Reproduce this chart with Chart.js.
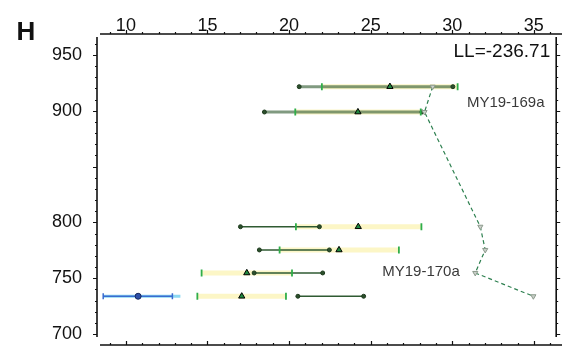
<!DOCTYPE html>
<html>
<head>
<meta charset="utf-8">
<script src="https://cdn.jsdelivr.net/npm/chart.js@4.4.1/dist/chart.umd.min.js"></script>
<style>
    html, body { margin: 0; padding: 0; background: #fff; }
    #wrap { width: 562px; height: 349px; position: relative; }
</style>
</head>
<body>
<div id="wrap"><canvas id="chart"></canvas></div>
<script>
// values
const rowY = [921.6, 898.9, 796.1, 775.3, 754.7, 733.8];
const lineLo = [20.62, 18.49, 17.02, 18.18, 17.86, 20.54];
const lineHi = [30.04, 28.15, 21.86, 22.47, 22.06, 24.57];
const bandLo = [22.01, 20.38, 20.42, 19.42, 14.64, 14.38];
const bandHi = [30.33, 28.07, 28.11, 26.73, 20.18, 19.81];
const triX = [26.18, 24.22, 24.24, 23.06, 17.41, 17.10];
const pathX = [28.80, 28.30, 31.72, 32.02, 31.41, 34.97];

// the blue interval on the lowest row
const blueY = 733.8;
const blueLo = 8.61;
const blueMid = 10.75;
const blueHi = 12.85;
const cyanHi = 13.34;

const xTicks = [10, 15, 20, 25, 30, 35];
const yTicks = [700, 750, 800, 850, 900, 950];
const yTickLabels = ['700', '750', '800', '', '900', '950'];

const FONT = "'Liberation Sans', Arial, sans-serif";

const seg = (a, b, y) => [{ x: a, y: y }, { x: b, y: y }];

const datasets = [];

// pale yellow bands, drawn first
rowY.forEach((y, i) => {
    datasets.push({
        data: seg(bandLo[i], bandHi[i], y),
        showLine: true,
        borderColor: '#fcf6c6',
        borderWidth: 5,
        pointRadius: 0,
        order: 9
    });
});

// dark green intervals with end dots
rowY.forEach((y, i) => {
    const faded = i < 2;
    datasets.push({
        data: seg(lineLo[i], lineHi[i], y),
        showLine: true,
        borderColor: faded ? 'rgba(60,100,60,0.65)' : '#2f5a32',
        borderWidth: faded ? 3 : 1.5,
        pointRadius: 2,
        pointBackgroundColor: '#2c4f2c',
        pointBorderColor: '#1d3a1d',
        pointBorderWidth: 1,
        order: 7
    });
});

// green end marks of the yellow bands
datasets.push({
    data: rowY.flatMap((y, i) => seg(bandLo[i], bandHi[i], y)),
    pointStyle: 'line',
    pointRotation: 90,
    pointRadius: 3.5,
    pointBorderColor: '#2fae4a',
    pointBorderWidth: 1.8,
    order: 5
});

// blue interval
datasets.push({
    data: seg(blueLo, cyanHi, blueY),
    showLine: true,
    borderColor: '#8cd8f2',
    borderWidth: 3,
    pointRadius: 0,
    order: 8
});
datasets.push({
    data: seg(blueLo, blueHi, blueY),
    showLine: true,
    borderColor: '#3a6bd0',
    borderWidth: 1.5,
    pointStyle: 'line',
    pointRotation: 90,
    pointRadius: 3,
    pointBorderColor: '#3a6bd0',
    pointBorderWidth: 1.5,
    order: 6
});
datasets.push({
    data: [{ x: blueMid, y: blueY }],
    pointRadius: 3,
    pointBackgroundColor: '#2d4fa8',
    pointBorderColor: '#16285e',
    pointBorderWidth: 1,
    order: 4
});

// triangles
datasets.push({
    data: triX.map((x, i) => ({ x: x, y: rowY[i] })),
    pointStyle: 'triangle',
    pointRadius: 3.6,
    pointBackgroundColor: '#1f8a3f',
    pointBorderColor: '#000',
    pointBorderWidth: 1,
    order: 2
});

// dashed path with grey markers
datasets.push({
    data: pathX.map((x, i) => ({ x: x, y: rowY[i] })),
    showLine: true,
    borderColor: '#2e8050',
    borderWidth: 1.2,
    borderDash: [4, 3],
    pointStyle: 'triangle',
    pointRotation: 180,
    pointRadius: 3,
    pointBackgroundColor: '#c9cfc9',
    pointBorderColor: '#8c9a8c',
    pointBorderWidth: 1,
    order: 1
});

// open frame, offset axes and minor ticks, plus the free text
const framePlugin = {
    id: 'frame',
    afterDraw(chart) {
        const ctx = chart.ctx;
        const ca = chart.chartArea;
        const xs = chart.scales.x;
        const ys = chart.scales.y;
        const topY = ca.top - 3;
        const botY = ca.bottom + 8;
        ctx.save();
        ctx.strokeStyle = '#111';
        ctx.lineWidth = 1.6;
        ctx.beginPath();
        ctx.moveTo(ca.left + 3, topY); ctx.lineTo(chart.width, topY);
        ctx.moveTo(ca.left + 3, botY); ctx.lineTo(chart.width, botY);
        ctx.moveTo(ca.left, ca.top); ctx.lineTo(ca.left, ca.bottom);
        ctx.moveTo(ca.right, ca.top); ctx.lineTo(ca.right, ca.bottom);
        ctx.stroke();

        ctx.lineWidth = 1.2;
        ctx.beginPath();
        for (let v = 9; v <= 36; v++) {
            const px = Math.round(xs.getPixelForValue(v)) + 0.5;
            const len = v % 5 === 0 ? 4 : 2;
            ctx.moveTo(px, topY); ctx.lineTo(px, topY - len);
            ctx.moveTo(px, botY); ctx.lineTo(px, botY - len);
        }
        for (let v = 700; v <= 960; v += 10) {
            const py = Math.round(ys.getPixelForValue(v)) + 0.5;
            const len = v % 50 === 0 ? 4 : 2;
            ctx.moveTo(ca.left, py); ctx.lineTo(ca.left - len, py);
            ctx.moveTo(ca.right, py); ctx.lineTo(ca.right + len, py);
        }
        ctx.stroke();

        ctx.fillStyle = '#111';
        ctx.textBaseline = 'middle';
        ctx.font = 'bold 26px ' + FONT;
        ctx.textAlign = 'center';
        ctx.fillText('H', 26, 33);

        ctx.font = '19px ' + FONT;
        ctx.textAlign = 'right';
        ctx.fillText('LL=-236.71', ca.right - 6, 52);

        ctx.fillStyle = '#3a3a3a';
        ctx.font = '15px ' + FONT;
        ctx.textAlign = 'left';
        ctx.fillText('MY19-169a', xs.getPixelForValue(30.9), ys.getPixelForValue(907.4));
        ctx.fillText('MY19-170a', xs.getPixelForValue(25.71), ys.getPixelForValue(755.4));
        ctx.restore();
    }
};

// fixed box sizes so the plot frame lands where it is in the reference
const pinSize = (s, key, size) => {
    s[key] = size;
    s.paddingTop = 0;
    s.paddingBottom = 0;
    s.paddingLeft = 0;
    s.paddingRight = 0;
};

new Chart(document.getElementById('chart'), {
    type: 'scatter',
    data: { datasets: datasets },
    options: {
        responsive: true,
        maintainAspectRatio: false,
        animation: false,
        layout: { padding: { left: 0, right: 4, top: 0, bottom: 12 } },
        plugins: {
            legend: { display: false },
            tooltip: { enabled: false }
        },
        scales: {
            x: {
                type: 'linear',
                position: 'top',
                min: 8.23,
                max: 36.37,
                grid: { display: false, drawTicks: false },
                border: { display: false },
                afterBuildTicks: s => { s.ticks = xTicks.map(v => ({ value: v })); },
                afterFit: s => pinSize(s, 'height', 37),
                ticks: {
                    autoSkip: false,
                    maxRotation: 0,
                    padding: 0,
                    color: '#111',
                    font: { family: FONT, size: 18 }
                }
            },
            y: {
                type: 'linear',
                min: 697.3,
                max: 966.1,
                grid: { display: false, drawTicks: false },
                border: { display: false },
                afterBuildTicks: s => { s.ticks = yTicks.map(v => ({ value: v })); },
                afterFit: s => pinSize(s, 'width', 97),
                ticks: {
                    autoSkip: false,
                    padding: 15,
                    color: '#111',
                    font: { family: FONT, size: 18 },
                    callback: (v, i) => yTickLabels[i]
                }
            }
        }
    },
    plugins: [framePlugin]
});
</script>
</body>
</html>
